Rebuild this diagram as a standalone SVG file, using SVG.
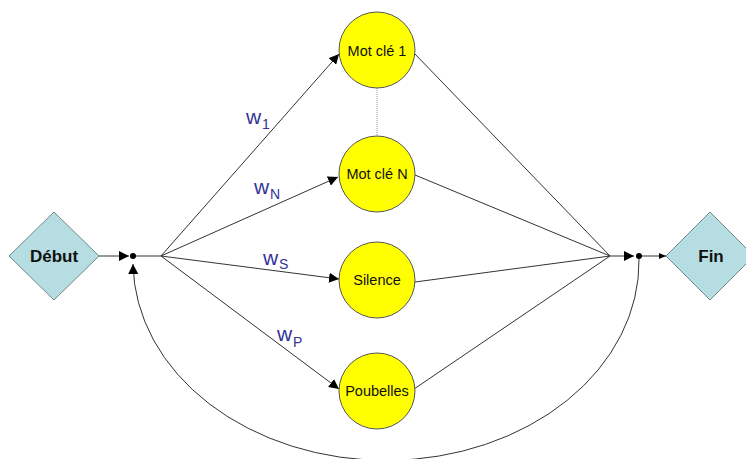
<svg xmlns="http://www.w3.org/2000/svg" width="746" height="459" viewBox="0 0 746 459">
<style>
.edge{stroke:#333;stroke-width:1;fill:none}
.state circle{fill:#ffff00;stroke:#555;stroke-width:1}
.state text{font-family:"Liberation Sans",Arial,sans-serif;font-size:14.5px;fill:#111;text-anchor:middle}
.term polygon{fill:#b6dde2;stroke:#6e8a8c;stroke-width:1}
.term text{font-family:"Liberation Sans",Arial,sans-serif;font-size:17px;font-weight:bold;fill:#111;text-anchor:middle}
.lbl{font-family:"Liberation Sans",Arial,sans-serif;font-size:21px;fill:#333399}
.sub{font-size:14px}
.dot{fill:#000}
</style>
<defs>
<marker id="arr" markerUnits="userSpaceOnUse" markerWidth="11" markerHeight="10" refX="10" refY="5" orient="auto">
<path d="M0,0 L10,5 L0,10 z" fill="#000"/>
</marker>
<marker id="arrs" markerUnits="userSpaceOnUse" markerWidth="8" markerHeight="6" refX="7" refY="3" orient="auto">
<path d="M0,0 L7,3 L0,6 z" fill="#000"/>
</marker>
</defs>
<g id="connectors">
<line class="edge" x1="99" y1="256" x2="129" y2="256" marker-end="url(#arr)"/>
<line class="edge" x1="133" y1="256" x2="161" y2="256"/>
<line class="edge" x1="161" y1="256" x2="339" y2="54" marker-end="url(#arr)"/>
<line class="edge" x1="161" y1="256" x2="338" y2="177" marker-end="url(#arr)"/>
<line class="edge" x1="161" y1="256" x2="339" y2="279" marker-end="url(#arr)"/>
<line class="edge" x1="161" y1="256" x2="339" y2="389" marker-end="url(#arr)"/>
<line x1="377" y1="88" x2="377" y2="136" stroke="#999" stroke-width="1" stroke-dasharray="1,1"/>
<line class="edge" x1="414" y1="53" x2="610" y2="256"/>
<line class="edge" x1="415" y1="175" x2="610" y2="256"/>
<line class="edge" x1="415" y1="282" x2="610" y2="256"/>
<line class="edge" x1="414" y1="389" x2="610" y2="256"/>
<line class="edge" x1="610" y1="256" x2="634" y2="256" marker-end="url(#arr)"/>
<line class="edge" x1="639" y1="256" x2="666" y2="256" marker-end="url(#arrs)"/>
<path class="edge" d="M639,259 A253,199 0 0 1 133,264" marker-end="url(#arr)"/>
<circle class="dot" cx="133" cy="256" r="3"/>
<circle class="dot" cx="639" cy="256" r="3"/>
<text class="lbl" x="246" y="124">w</text><text class="lbl sub" x="262" y="129">1</text>
<text class="lbl" x="254" y="194">w</text><text class="lbl sub" x="270" y="199">N</text>
<text class="lbl" x="263" y="265">w</text><text class="lbl sub" x="279" y="269">S</text>
<text class="lbl" x="277" y="341">w</text><text class="lbl sub" x="293" y="347">P</text>
</g>
<g id="debut" class="term">
<polygon points="9,256 54,212 99,256 54,300"/>
<text x="54" y="262">Début</text>
</g>
<g id="fin" class="term">
<polygon points="666,256 710,212 754,256 710,300"/>
<text x="711" y="262">Fin</text>
</g>
<g id="motcle1" class="state">
<circle cx="377" cy="50" r="38"/>
<text x="377" y="55.5">Mot clé 1</text>
</g>
<g id="motcleN" class="state">
<circle cx="377" cy="174" r="38"/>
<text x="377" y="179">Mot clé N</text>
</g>
<g id="silence" class="state">
<circle cx="377" cy="280" r="38"/>
<text x="377" y="285">Silence</text>
</g>
<g id="poubelles" class="state">
<circle cx="377" cy="391" r="38"/>
<text x="377" y="396">Poubelles</text>
</g>
</svg>
